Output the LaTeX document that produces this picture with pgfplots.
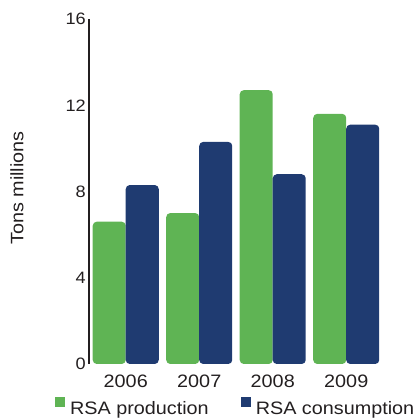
\documentclass[border=0pt]{standalone}
\usepackage{pgfplots}
\pgfplotsset{compat=1.18}
\usepackage{fontspec}
\setmainfont{Liberation Sans}[FakeStretch=1.1]

\definecolor{prodgreen}{RGB}{95,180,84}
\definecolor{consnavy}{RGB}{31,59,113}
\definecolor{inkgray}{RGB}{35,31,32}

% flat square swatches for the legend
\pgfplotsset{
  square legend/.style={
    legend image code/.code={\fill[##1, sharp corners] (0pt,1pt) rectangle (10pt,11pt);}
  }
}

\begin{document}
\begin{tikzpicture}
\useasboundingbox (0,0) rectangle (414pt,420pt);
\begin{axis}[
  at={(89pt,56pt)}, anchor=south west,
  scale only axis,
  width=294pt, height=345pt,
  xmin=-0.5, xmax=3.5,
  ymin=0, ymax=16,
  ytick={0,4,8,12,16},
  xtick={0,1,2,3},
  xticklabels={{2006},{2007},{2008},{2009}},
  axis lines*=left,
  x axis line style={draw=none},
  y axis line style={draw=inkgray, line width=1.1pt},
  major tick length=0pt,
  /pgf/number format/assume math mode=true,
  yticklabel style={font=\fontsize{16.5}{19}\selectfont, text=inkgray, inner sep=0pt, xshift=-3pt},
  xticklabel style={font=\fontsize{18}{21}\selectfont, text=inkgray, inner sep=0pt, yshift=-11pt},
  ylabel={Tons millions},
  every axis y label/.style={at={(axis description cs:-0.245,0.51)}, rotate=90, anchor=center,
    font=\fontsize{18}{21}\selectfont, text=inkgray},
  ybar=0pt,
  bar width=33pt,
  legend columns=2,
  legend style={
    at={(axis description cs:-0.116,-0.126)}, anchor=west,
    draw=none, fill=none, inner sep=0pt,
    font=\fontsize{18}{21}\selectfont, text=inkgray,
    /tikz/every odd column/.append style={column sep=3pt},
    /tikz/every even column/.append style={column sep=30pt},
  },
]
\addplot[ybar, fill=prodgreen, draw=none, rounded corners=4pt, square legend]
  coordinates {(0,6.6) (1,7.0) (2,12.7) (3,11.6)};
\addlegendentry{RSA production}
\addplot[ybar, fill=consnavy, draw=none, rounded corners=4pt, square legend]
  coordinates {(0,8.3) (1,10.3) (2,8.8) (3,11.1)};
\addlegendentry{RSA consumption}
\end{axis}
\end{tikzpicture}
\end{document}
